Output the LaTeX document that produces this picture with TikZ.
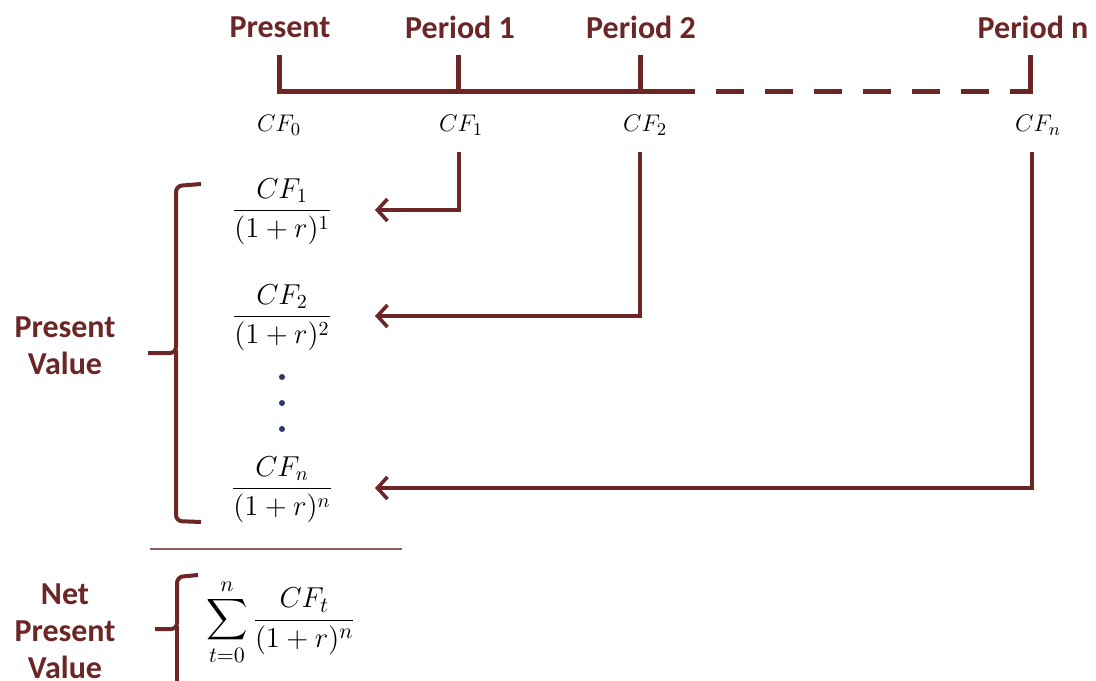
\documentclass[tikz,border=0pt]{standalone}
\usepackage{fontspec}
\setmainfont{Carlito}
\usepackage{amsmath}
\usetikzlibrary{arrows.meta, positioning}
\definecolor{maroon}{RGB}{108,38,38}
\definecolor{dotblue}{RGB}{45,55,110}

\begin{document}
\begin{tikzpicture}[
  x=0.5pt, y=-0.5pt,
  period/.style={font=\fontsize{16}{18.5}\selectfont\bfseries, text=maroon, align=center},
  cflab/.style={font=\fontsize{13}{15}\selectfont},
  pvfrac/.style={font=\fontsize{14}{16}\selectfont, inner sep=0pt},
  timeline/.style={draw=maroon, line width=2.5pt, line join=miter},
  flow/.style={draw=maroon, line width=1.8pt, -{Straight Barb[length=5pt,width=11pt,line width=1.8pt]}},
  bracket/.style={draw=maroon, line width=2pt, rounded corners=3pt},
]
  \useasboundingbox (0,0) rectangle (1096,680);

  % time line
  \coordinate (t0) at (279,91);
  \coordinate (t1) at (458,91);
  \coordinate (t2) at (640,91);
  \coordinate (tn) at (1030,91);
  \draw[timeline] (279,55) -- (t0) -- (667,91);
  \draw[timeline] (458,55) -- (t1);
  \draw[timeline] (640,55) -- (t2);
  \draw[timeline, dash pattern=on 14pt off 10.5pt] (667,91) -- (1032,91);
  \draw[timeline] (1030,55) -- (1030,93.5);

  \node[period] (lp0) at (280,27) {Present};
  \node[period] (lp1) at (460,27) {Period 1};
  \node[period] (lp2) at (641,27) {Period 2};
  \node[period] (lpn) at (1033,27) {Period n};

  \node[cflab] (cf0) at (279,125) {$CF_0$};
  \node[cflab] (cf1) at (461,125) {$CF_1$};
  \node[cflab] (cf2) at (645,125) {$CF_2$};
  \node[cflab] (cfn) at (1038,125) {$CF_n$};

  % discounted flows
  \node[pvfrac] (pv1) at (282,212) {$\dfrac{CF_1}{(1+r)^1}$};
  \node[pvfrac] (pv2) at (282,318) {$\dfrac{CF_2}{(1+r)^2}$};
  \node[pvfrac] (pvn) at (282,490) {$\dfrac{CF_n}{(1+r)^n}$};
  \foreach \y in {377,403,429}
    \fill[dotblue] (282,\y) circle (1.5pt);

  \coordinate (a1) at (459,152);
  \coordinate (a2) at (640,152);
  \coordinate (an) at (1032,152);
  \draw[flow] (a1) |- (375,210);
  \draw[flow] (a2) |- (375,316);
  \draw[flow] (an) |- (375,488);

  % present value
  \node[period] (pvlab) at (65,346) {Present\\Value};
  \draw[bracket] (201,184) -- (176,186) -- (176,353) -- (148,353);
  \draw[bracket] (176,350) -- (176,521) -- (201,522);

  \draw[maroon!75, line width=0.7pt] (150,549) -- (402,549);

  % net present value
  \node[period] (npvlab) at (65,631) {Net\\Present\\Value};
  \draw[bracket] (198,575) -- (177,577) -- (177,629) -- (155,629);
  \draw[bracket] (177,626) -- (177,690);
  \node[pvfrac, font=\fontsize{15}{17}\selectfont] (npv) at (281,622) {$\displaystyle\sum_{t=0}^{n}\frac{CF_t}{(1+r)^n}$};
\end{tikzpicture}
\end{document}
